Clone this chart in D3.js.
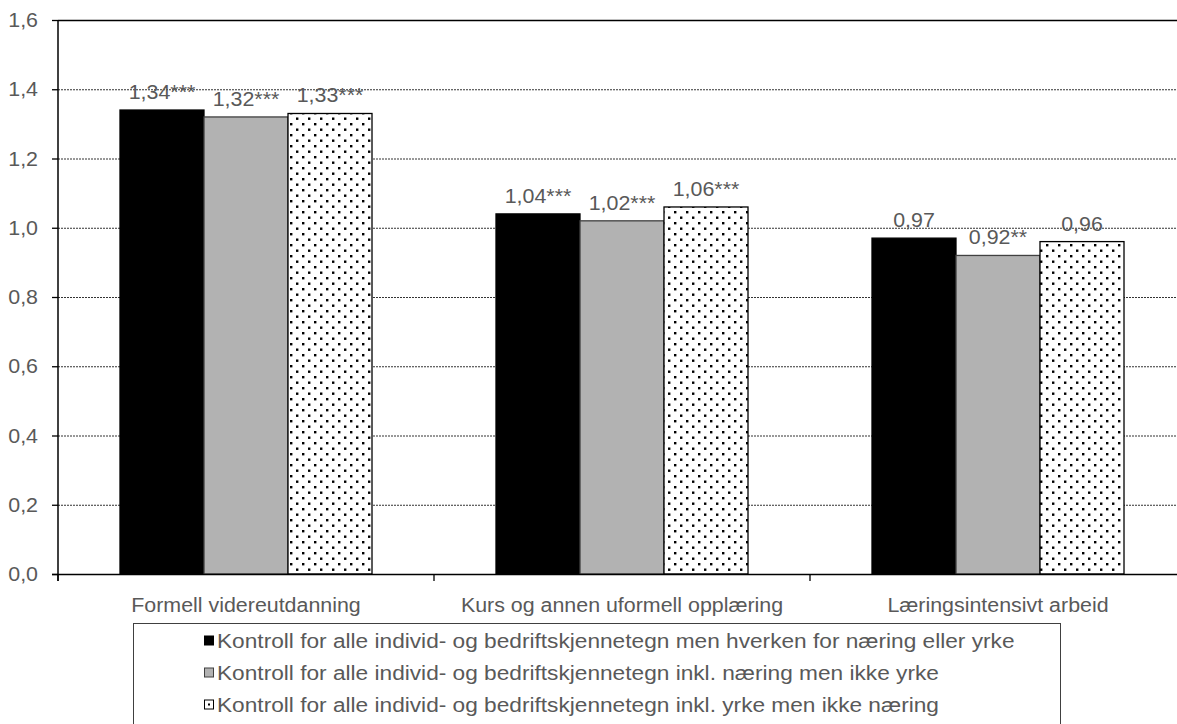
<!DOCTYPE html>
<html>
<head>
<meta charset="utf-8">
<script src="https://cdn.jsdelivr.net/npm/d3@7/dist/d3.min.js"></script>
<style>
  html, body { margin: 0; padding: 0; background: #fff; }
  svg { display: block; }
  text { font-family: "Liberation Sans", Arial, sans-serif; fill: #595959; }
</style>
</head>
<body>
<svg id="chart" width="1177" height="724"></svg>
<script>
// Categories, series and values
const categories = ["Formell videreutdanning", "Kurs og annen uformell opplæring", "Læringsintensivt arbeid"];
const seriesNames = [
  "Kontroll for alle individ- og bedriftskjennetegn men hverken for næring eller yrke",
  "Kontroll for alle individ- og bedriftskjennetegn inkl. næring men ikke yrke",
  "Kontroll for alle individ- og bedriftskjennetegn inkl. yrke men ikke næring"
];
const seriesA = [1.34, 1.04, 0.97];
const seriesB = [1.32, 1.02, 0.92];
const seriesC = [1.33, 1.06, 0.96];
const labelsA = ["1,34***", "1,04***", "0,97"];
const labelsB = ["1,32***", "1,02***", "0,92**"];
const labelsC = ["1,33***", "1,06***", "0,96"];
const yTicks = [0, 0.2, 0.4, 0.6, 0.8, 1.0, 1.2, 1.4, 1.6];

const values = [seriesA, seriesB, seriesC];
const labels = [labelsA, labelsB, labelsC];

const FS = 20;      // font size
const SX = 1.07;    // horizontal text stretch
const LFS = 21;     // legend font size
const LSX = 1.08;

const svg = d3.select("#chart");

// Dotted fill
const defs = svg.append("defs");
const pat = defs.append("pattern").attr("id", "dots")
  .attr("patternUnits", "userSpaceOnUse").attr("width", 12).attr("height", 11);
pat.append("rect").attr("width", 12).attr("height", 11).attr("fill", "#fff");
pat.append("rect").attr("x", 2).attr("y", 2).attr("width", 2.4).attr("height", 2.4).attr("fill", "#000");
pat.append("rect").attr("x", 8).attr("y", 7.5).attr("width", 2.4).attr("height", 2.4).attr("fill", "#000");

const fills = ["#000000", "#b2b2b2", "url(#dots)"];
const strokes = ["#000000", "#404040", "#000000"];

const plotLeft = 58, plotTop = 20, plotBottom = 574, plotRight = 1186;

const y = d3.scaleLinear().domain([0, 1.6]).range([plotBottom, plotTop]);
const x0 = d3.scaleBand().domain(categories).range([plotLeft, plotRight]).padding(0);
const x1 = d3.scaleBand().domain(d3.range(3)).range([0, x0.bandwidth()])
  .paddingInner(0).paddingOuter(0.738);

function stretchedText(g, x, yy, str, anchor, fs, sx) {
  return g.append("text")
    .attr("transform", `translate(${x},${yy}) scale(${sx || SX},1)`)
    .attr("text-anchor", anchor || "middle")
    .attr("font-size", fs || FS)
    .text(str);
}

// Gridlines
svg.append("g").selectAll("line")
  .data(yTicks.filter(t => t > 0 && t < 1.6))
  .join("line")
  .attr("x1", plotLeft).attr("x2", 1177)
  .attr("y1", d => y(d) + 0.5).attr("y2", d => y(d) + 0.5)
  .attr("stroke", "#333").attr("stroke-width", 1).attr("stroke-dasharray", "2,1");

// Top border
svg.append("line").attr("x1", plotLeft).attr("x2", 1177)
  .attr("y1", y(1.6) + 0.5).attr("y2", y(1.6) + 0.5)
  .attr("stroke", "#000").attr("stroke-width", 1.3);

// Bars
const bars = svg.append("g");
categories.forEach((c, ci) => {
  values.forEach((vals, si) => {
    const bx = x0(c) + x1(si);
    bars.append("rect")
      .attr("x", bx).attr("y", y(vals[ci]))
      .attr("width", x1.bandwidth()).attr("height", y(0) - y(vals[ci]))
      .attr("fill", fills[si]).attr("stroke", strokes[si]).attr("stroke-width", 1.3);
    stretchedText(bars, bx + x1.bandwidth() / 2, y(vals[ci]) - 11, labels[si][ci]);
  });
});

// Y axis
const yAxis = svg.append("g");
yAxis.append("line").attr("x1", plotLeft).attr("x2", plotLeft).attr("y1", plotTop).attr("y2", plotBottom + 7)
  .attr("stroke", "#000").attr("stroke-width", 1.5);
yTicks.forEach(t => {
  yAxis.append("line").attr("x1", plotLeft - 6).attr("x2", plotLeft)
    .attr("y1", y(t) + 0.5).attr("y2", y(t) + 0.5)
    .attr("stroke", "#000").attr("stroke-width", 1.3);
  stretchedText(yAxis, 38, y(t) + 7, d3.format(".1f")(t).replace(".", ","), "end");
});

// X axis
const xAxis = svg.append("g");
xAxis.append("line").attr("x1", plotLeft - 6).attr("x2", 1177)
  .attr("y1", plotBottom + 0.5).attr("y2", plotBottom + 0.5)
  .attr("stroke", "#000").attr("stroke-width", 1.3);
categories.forEach(c => {
  xAxis.append("line").attr("x1", x0(c)).attr("x2", x0(c))
    .attr("y1", plotBottom).attr("y2", plotBottom + 7)
    .attr("stroke", "#000").attr("stroke-width", 1.3);
  stretchedText(xAxis, x0(c) + x0.bandwidth() / 2, 612, c);
});

// Legend
const lg = svg.append("g");
lg.append("rect").attr("x", 133.5).attr("y", 623.5).attr("width", 927).attr("height", 110)
  .attr("fill", "#fff").attr("stroke", "#404040").attr("stroke-width", 1);
seriesNames.forEach((name, i) => {
  const cy = 641 + i * 32;
  lg.append("rect").attr("x", 204.5).attr("y", cy - 5).attr("width", 9).attr("height", 9)
    .attr("fill", i === 2 ? "#fff" : fills[i]).attr("stroke", strokes[i]).attr("stroke-width", 1);
  if (i === 2) {
    lg.append("rect").attr("x", 208).attr("y", cy - 1.5).attr("width", 2).attr("height", 2).attr("fill", "#000");
  }
  stretchedText(lg, 217, cy + 7, name, "start", LFS, LSX);
});
</script>
</body>
</html>
